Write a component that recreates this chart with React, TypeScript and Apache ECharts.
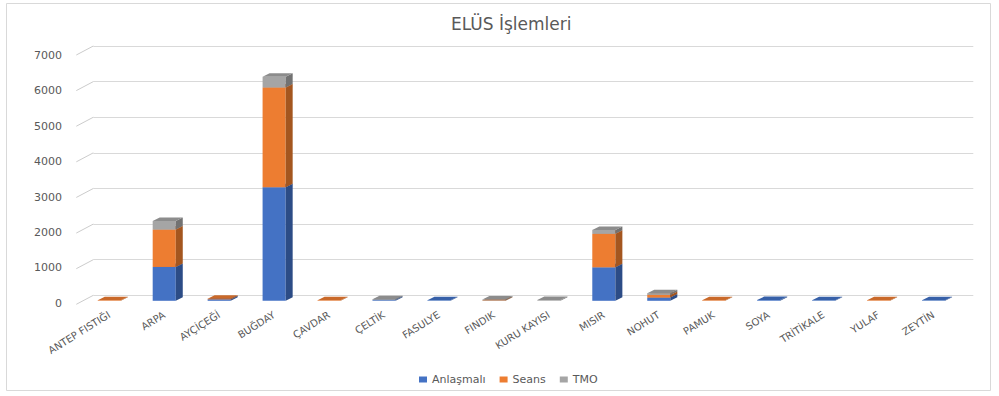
import React, { useEffect, useRef } from "react";
import * as echarts from "echarts";

// Ürün bazında ELÜS işlem miktarları (üç işlem türü, yığılmış)
const CATEGORIES = [
  "ANTEP FISTIĞI",
  "ARPA",
  "AYÇİÇEĞİ",
  "BUĞDAY",
  "ÇAVDAR",
  "ÇELTİK",
  "FASULYE",
  "FINDIK",
  "KURU KAYISI",
  "MISIR",
  "NOHUT",
  "PAMUK",
  "SOYA",
  "TRİTİKALE",
  "YULAF",
  "ZEYTİN",
];
const ANLASMALI = [0, 950, 40, 3190, 0, 20, 15, 0, 0, 940, 90, 0, 20, 15, 0, 15];
const SEANS = [15, 1050, 20, 2800, 15, 0, 0, 10, 0, 940, 75, 15, 0, 0, 15, 0];
const TMO = [0, 240, 0, 300, 0, 25, 0, 25, 20, 110, 50, 0, 0, 0, 0, 0];

const Y_MIN = 0;
const Y_MAX = 7000;
const Y_INTERVAL = 1000;
const Y_TICKS = [0, 1000, 2000, 3000, 4000, 5000, 6000, 7000];

const SERIES_DEFS = [
  { name: "Anlaşmalı", values: ANLASMALI, front: "#4472C4", side: "#2C4C86", top: "#3760A8" },
  { name: "Seans", values: SEANS, front: "#ED7D31", side: "#A4561F", top: "#C9692A" },
  { name: "TMO", values: TMO, front: "#A5A5A5", side: "#727272", top: "#8C8C8C" },
];

// 3B görünüm: sütun derinliği, ön düzlem ile arka duvar arası kayma, yan duvar kayması (piksel)
const BAR_DX = 7;
const BAR_DY = 3.5;
const BACK_DX = 11.5;
const BACK_DY = 5.5;
const WALL_DX = 17;
const WALL_DY = 9;
const FONT = "DejaVu Sans";
const TEXT_COLOR = "#595959";
const GRID_COLOR = "#D9D9D9";
const WALL_LINE_COLOR = "#CCCCCC";

const FRONT_GRID = { left: 81.8, width: 879.2, top: 51.5, height: 249.3 };

function stackedData(k: number) {
  const out: number[][] = [];
  CATEGORIES.forEach((_, i) => {
    let base = 0;
    for (let j = 0; j < k; j++) base += SERIES_DEFS[j].values[i];
    const v = SERIES_DEFS[k].values[i];
    if (v > 0) out.push([i, base, base + v]);
  });
  return out;
}

function makeBarRenderer(def: { front: string; side: string; top: string }) {
  return (params: any, api: any) => {
    const i = api.value(0);
    const lo = api.value(1);
    const hi = api.value(2);
    const pLo = api.coord([i, lo]);
    const pHi = api.coord([i, hi]);
    const w = api.size([1, 0])[0] * 0.42;
    const x0 = pLo[0] - w / 2;
    const x1 = x0 + w;
    const yb = pLo[1];
    const yt = pHi[1];
    return {
      type: "group",
      children: [
        {
          type: "rect",
          shape: { x: x0, y: yt, width: w, height: Math.max(yb - yt, 0) },
          style: { fill: def.front },
        },
        {
          type: "polygon",
          shape: {
            points: [
              [x1, yb],
              [x1 + BAR_DX, yb - BAR_DY],
              [x1 + BAR_DX, yt - BAR_DY],
              [x1, yt],
            ],
          },
          style: { fill: def.side },
        },
        {
          type: "polygon",
          shape: {
            points: [
              [x0, yt],
              [x1, yt],
              [x1 + BAR_DX, yt - BAR_DY],
              [x0 + BAR_DX, yt - BAR_DY],
            ],
          },
          style: { fill: def.top },
        },
      ],
    };
  };
}

// sol yan duvar: her değer çizgisinin arka duvardan etiket düzlemine inen eğik parçası
function renderWallLine(params: any, api: any) {
  const p = api.coord([0, api.value(1)]);
  const xBack = params.coordSys.x + BACK_DX;
  const yBack = p[1] - BACK_DY;
  return {
    type: "line",
    shape: { x1: xBack - WALL_DX, y1: yBack + WALL_DY, x2: xBack, y2: yBack },
    style: { stroke: WALL_LINE_COLOR, lineWidth: 1 },
  };
}

export default function App() {
  const ref = useRef<HTMLDivElement>(null);

  useEffect(() => {
    if (!ref.current) return;
    const chart = echarts.init(ref.current, undefined, { renderer: "svg" });

    const barSeries = SERIES_DEFS.map((def, k) => ({
      name: def.name,
      type: "custom",
      xAxisIndex: 0,
      yAxisIndex: 0,
      itemStyle: { color: def.front },
      encode: { x: 0, y: [1, 2] },
      data: stackedData(k),
      renderItem: makeBarRenderer(def),
      z: 10,
    }));

    const wallSeries = {
      name: "yan duvar",
      type: "custom",
      xAxisIndex: 0,
      yAxisIndex: 0,
      silent: true,
      clip: false,
      encode: { x: 0, y: 1 },
      data: Y_TICKS.map((v) => [0, v]),
      renderItem: renderWallLine,
      z: 5,
    };

    chart.setOption({
      animation: false,
      backgroundColor: "#FFFFFF",
      title: {
        text: "ELÜS İşlemleri",
        left: 446,
        top: 10,
        textStyle: { fontFamily: FONT, fontSize: 17, fontWeight: "normal", color: TEXT_COLOR },
      },
      legend: {
        data: SERIES_DEFS.map((d) => d.name),
        left: 414,
        top: 369,
        icon: "rect",
        itemWidth: 8,
        itemHeight: 6,
        itemGap: 14,
        textStyle: { fontFamily: FONT, fontSize: 11, color: TEXT_COLOR },
      },
      graphic: [
        {
          type: "rect",
          silent: true,
          shape: { x: 6.5, y: 3.5, width: 984, height: 387 },
          style: { fill: "none", stroke: GRID_COLOR, lineWidth: 1 },
        },
      ],
      grid: [
        // sütunların ön düzlemi
        FRONT_GRID,
        // arka duvar
        {
          left: FRONT_GRID.left + BACK_DX,
          width: 880,
          top: FRONT_GRID.top - BACK_DY,
          height: FRONT_GRID.height,
        },
        // değer etiketleri düzlemi
        { left: 76, width: 1, top: 55.5, height: 247.8 },
      ],
      xAxis: [
        {
          gridIndex: 0,
          type: "category",
          data: CATEGORIES,
          axisLine: { show: false },
          axisTick: { show: false },
          axisLabel: {
            interval: 0,
            rotate: 32,
            margin: 13,
            fontFamily: FONT,
            fontSize: 10,
            color: TEXT_COLOR,
          },
        },
        { gridIndex: 1, type: "value", min: 0, max: 1, show: false },
        { gridIndex: 2, type: "value", min: 0, max: 1, show: false },
      ],
      yAxis: [
        { gridIndex: 0, type: "value", min: Y_MIN, max: Y_MAX, interval: Y_INTERVAL, show: false },
        {
          gridIndex: 1,
          type: "value",
          min: Y_MIN,
          max: Y_MAX,
          interval: Y_INTERVAL,
          axisLine: { show: false },
          axisTick: { show: false },
          axisLabel: { show: false },
          splitLine: { show: true, lineStyle: { color: GRID_COLOR, width: 1 } },
        },
        {
          gridIndex: 2,
          type: "value",
          min: Y_MIN,
          max: Y_MAX,
          interval: Y_INTERVAL,
          axisLine: { show: false },
          axisTick: { show: false },
          splitLine: { show: false },
          axisLabel: {
            margin: 14,
            fontFamily: FONT,
            fontSize: 11,
            color: TEXT_COLOR,
            formatter: (v: number) => String(v),
          },
        },
      ],
      series: [wallSeries, ...barSeries],
    });

    return () => chart.dispose();
  }, []);

  return (
    <div
      ref={ref}
      style={{ position: "absolute", left: 0, top: 0, width: 999, height: 396, background: "#FFFFFF" }}
    />
  );
}
